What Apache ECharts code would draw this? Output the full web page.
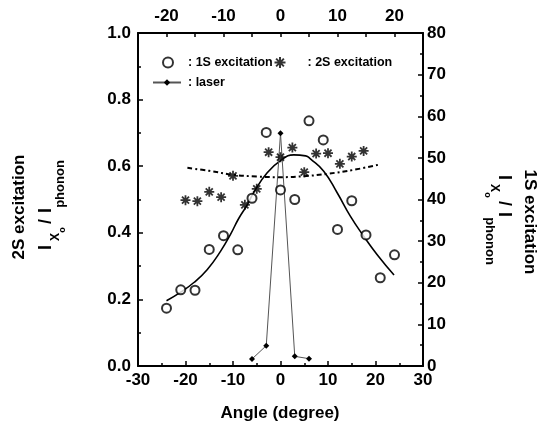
<!DOCTYPE html>
<html>
<head>
<meta charset="utf-8">
<script src="https://cdn.jsdelivr.net/npm/echarts@6/dist/echarts.min.js"></script>
<style>html,body{margin:0;padding:0;background:#fff;}#c{width:539px;height:430px;}</style>
</head>
<body>
<div id="c"></div>
<script>
// ---- data ----
const angle1S = [-24, -21, -18, -15, -12, -9, -6, -3, 0, 3, 6, 9, 12, 15, 18, 21, 24];
const value1S = [13.9, 18.3, 18.2, 28.0, 31.3, 27.9, 40.3, 56.1, 42.3, 40.0, 58.9, 54.3, 32.8, 39.7, 31.5, 21.2, 26.7];
const angle2S = [-20, -17.5, -15, -12.5, -10, -7.5, -5, -2.5, 0, 2.5, 5, 7.5, 10, 12.5, 15, 17.5];
const value2S = [0.498, 0.495, 0.523, 0.507, 0.571, 0.484, 0.532, 0.642, 0.627, 0.656, 0.582, 0.638, 0.639, 0.607, 0.629, 0.646];
const angleLaser = [-6, -3, 0, 3, 6];
const valueLaser = [0.021, 0.061, 0.699, 0.029, 0.022];
// fitted curves
const fit1SAngle = [-24, -21, -18.3, -15.4, -12.6, -10.5, -8.8, -7.0, -5.6, -2.8, 0, 2.8, 5.3, 6.3, 9.1, 11.9, 14.7, 17.5, 20.4, 23.9];
const fit1SValue = [0.196, 0.222, 0.250, 0.290, 0.345, 0.396, 0.443, 0.484, 0.522, 0.580, 0.617, 0.634, 0.631, 0.622, 0.585, 0.521, 0.450, 0.390, 0.333, 0.273];
const fit2SAngle = [-19.6, -15, -9.8, -5, 0, 5, 9.8, 15.4, 20.5];
const fit2SValue = [0.595, 0.586, 0.574, 0.569, 0.567, 0.570, 0.577, 0.589, 0.604];
// axis ranges / tick labels
const bottomTicks = [-30, -20, -10, 0, 10, 20, 30];
const topTicks = [-20, -10, 0, 10, 20];
const leftTicks = ['0.0', '0.2', '0.4', '0.6', '0.8', '1.0'];
const rightTicks = [0, 10, 20, 30, 40, 50, 60, 70, 80];

const FONT = "'Liberation Sans', Arial, sans-serif";
const starPath = 'path://M-0.9,-5L0.9,-5L0.9,5L-0.9,5Z M-5,-0.9L5,-0.9L5,0.9L-5,0.9Z ' +
  'M-2.90,-4.17L4.17,2.90L2.90,4.17L-4.17,-2.90Z M-4.17,2.90L2.90,-4.17L4.17,-2.90L-2.90,4.17Z';

const zip = (a, b) => a.map((x, i) => [x, b[i]]);
const labelStyle = { color: '#000', fontFamily: FONT, fontWeight: 'bold', fontSize: 17 };
const lineStyleAxis = { color: '#000', width: 2 };

function formulaGroup(x, y, rot) {
  const t = (txt, lx, ly, size) => ({
    type: 'text', x: lx, y: ly,
    style: { text: txt, fill: '#000', font: 'bold ' + size + 'px ' + FONT, align: 'center', verticalAlign: 'middle' }
  });
  return {
    type: 'group', x: x, y: y, rotation: rot,
    children: [
      t('I', 2.5, 0, 18),
      t('X', 13, 9, 12),
      t('o', 20, 16, 9),
      t('/', 28.5, 0, 18),
      t('I', 39.5, 0, 18),
      t('phonon', 66, 14, 13)
    ]
  };
}

const chart = echarts.init(document.getElementById('c'), null, { renderer: 'canvas' });
chart.setOption({
  backgroundColor: '#fff',
  animation: false,
  grid: { left: 138, right: 116, top: 33, bottom: 64 },
  xAxis: [
    {
      type: 'value', position: 'bottom', min: bottomTicks[0], max: bottomTicks[bottomTicks.length - 1], interval: 10,
      axisLine: { show: true, onZero: false, lineStyle: lineStyleAxis },
      axisTick: { show: true, inside: true, length: 5, lineStyle: { color: '#000', width: 1.5 } },
      minorTick: { show: true, splitNumber: 2, length: 3, lineStyle: { color: '#000', width: 1.5 } },
      splitLine: { show: false },
      axisLabel: Object.assign({ margin: 6, formatter: v => bottomTicks.includes(v) ? String(v) : '' }, labelStyle)
    },
    {
      type: 'value', position: 'top', min: -25, max: 25, interval: 5,
      axisLine: { show: true, onZero: false, lineStyle: lineStyleAxis },
      axisTick: { show: true, inside: true, length: 4, lineStyle: { color: '#000', width: 1.5 } },
      splitLine: { show: false },
      axisLabel: Object.assign({ margin: 8, formatter: v => topTicks.includes(v) ? String(v) : '' }, labelStyle)
    }
  ],
  yAxis: [
    {
      type: 'value', position: 'left', min: 0, max: 1, interval: 0.2,
      axisLine: { show: true, onZero: false, lineStyle: lineStyleAxis },
      axisTick: { show: true, inside: true, length: 5, lineStyle: { color: '#000', width: 1.5 } },
      minorTick: { show: true, splitNumber: 2, length: 3, lineStyle: { color: '#000', width: 1.5 } },
      splitLine: { show: false },
      axisLabel: Object.assign({ margin: 7, formatter: v => leftTicks[Math.round(v / 0.2)] }, labelStyle)
    },
    {
      type: 'value', position: 'right', min: 0, max: 80, interval: 10,
      axisLine: { show: true, onZero: false, lineStyle: lineStyleAxis },
      axisTick: { show: true, inside: true, length: 5, lineStyle: { color: '#000', width: 1.5 } },
      minorTick: { show: true, splitNumber: 2, length: 3, lineStyle: { color: '#000', width: 1.5 } },
      splitLine: { show: false },
      axisLabel: Object.assign({ margin: 4, formatter: v => rightTicks.includes(v) ? String(v) : '' }, labelStyle)
    }
  ],
  legend: [
    {
      data: ['1S excitation'], left: 162, top: 56, padding: 0, selectedMode: false,
      itemWidth: 10, itemHeight: 10, formatter: ': {name}',
      textStyle: { color: '#000', fontFamily: FONT, fontWeight: 'bold', fontSize: 12.5, padding: [0, 0, 0, 10] }
    },
    {
      data: ['2S excitation'], left: 274.5, top: 56, padding: 0, selectedMode: false,
      itemWidth: 11, itemHeight: 11, formatter: ': {name}',
      textStyle: { color: '#000', fontFamily: FONT, fontWeight: 'bold', fontSize: 12.5, padding: [0, 0, 0, 17] }
    },
    {
      data: ['laser'], left: 152, top: 76, padding: 0, selectedMode: false,
      itemWidth: 28, itemHeight: 8, formatter: ': {name}',
      textStyle: { color: '#000', fontFamily: FONT, fontWeight: 'bold', fontSize: 12.5, padding: [0, 0, 0, 2] }
    }
  ],
  series: [
    {
      name: 'fit1S', type: 'line', xAxisIndex: 0, yAxisIndex: 0, smooth: 0.5, showSymbol: false, silent: true,
      data: zip(fit1SAngle, fit1SValue), lineStyle: { color: '#000', width: 1.6 }, z: 2
    },
    {
      name: 'fit2S', type: 'line', xAxisIndex: 0, yAxisIndex: 0, smooth: 0.4, showSymbol: false, silent: true,
      data: zip(fit2SAngle, fit2SValue), lineStyle: { color: '#000', width: 2, type: [5, 3, 2, 3] }, z: 2
    },
    {
      name: 'laser', type: 'line', xAxisIndex: 0, yAxisIndex: 0, symbol: 'diamond', symbolSize: 6,
      data: zip(angleLaser, valueLaser), itemStyle: { color: '#000' }, lineStyle: { color: '#555', width: 1 }, z: 3
    },
    {
      name: '1S excitation', type: 'scatter', xAxisIndex: 0, yAxisIndex: 1, symbol: 'emptyCircle', symbolSize: 9,
      data: zip(angle1S, value1S), itemStyle: { color: '#000', borderColor: '#000', borderWidth: 1.3 }, z: 4
    },
    {
      name: '2S excitation', type: 'scatter', xAxisIndex: 0, yAxisIndex: 0, symbol: starPath, symbolSize: 10,
      data: zip(angle2S, value2S), itemStyle: { color: '#000' }, z: 4
    }
  ],
  graphic: [
    {
      type: 'text', x: 280, y: 413,
      style: { text: 'Angle (degree)', fill: '#000', font: 'bold 17px ' + FONT, align: 'center', verticalAlign: 'middle' }
    },
    {
      type: 'text', x: 19, y: 207, rotation: Math.PI / 2,
      style: { text: '2S excitation', fill: '#000', font: 'bold 17px ' + FONT, align: 'center', verticalAlign: 'middle' }
    },
    {
      type: 'text', x: 530, y: 222, rotation: -Math.PI / 2,
      style: { text: '1S excitation', fill: '#000', font: 'bold 17px ' + FONT, align: 'center', verticalAlign: 'middle' }
    },
    formulaGroup(46.5, 250, Math.PI / 2),
    formulaGroup(503.5, 175, -Math.PI / 2)
  ]
});
</script>
</body>
</html>
